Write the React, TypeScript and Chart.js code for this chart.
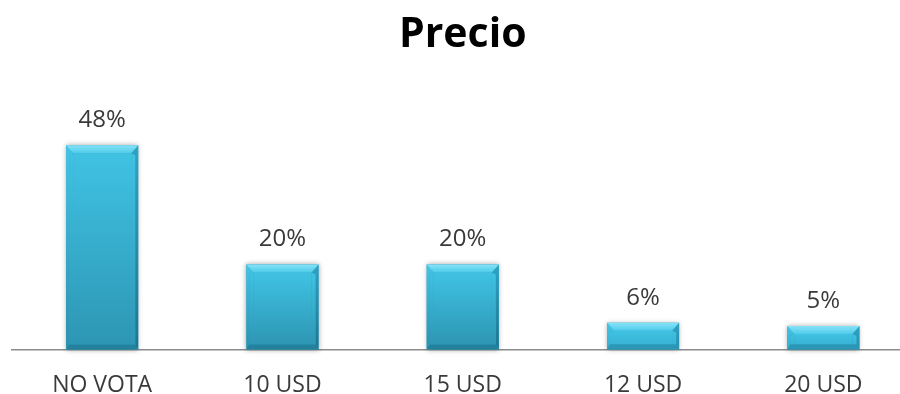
import React, { useEffect, useRef } from "react";
import { Chart, registerables } from "chart.js";

Chart.register(...registerables);

const chartTitle = "Precio";
const categories = ["NO VOTA", "10 USD", "15 USD", "12 USD", "20 USD"];
const values = [48, 20, 20, 6.3, 5.5];
const valueLabels = ["48%", "20%", "20%", "6%", "5%"];

const FONT = "'Open Sans', 'DejaVu Sans', sans-serif";

const bevelPlugin = {
  id: "bevelBars",
  afterDatasetsDraw(chart: any) {
    const ctx: CanvasRenderingContext2D = chart.ctx;
    const meta = chart.getDatasetMeta(0);
    meta.data.forEach((el: any, i: number) => {
      const { x, y, base, width } = el.getProps(["x", "y", "base", "width"], true);
      const l = x - width / 2;
      const r = x + width / 2;
      const t = Math.min(y, base);
      const b = Math.max(y, base);
      const h = b - t;
      const bt = Math.min(8, h / 2.6);
      const bs = Math.min(7, width / 5);
      const bb = Math.min(5, h / 4);
      const il = l + bs, ir = r - bs, it = t + bt, ib = b - bb;

      ctx.save();
      ctx.shadowColor = "rgba(0,0,0,0.35)";
      ctx.shadowBlur = 5;
      ctx.fillStyle = "#2a9fc0";
      ctx.fillRect(l, t, width, h);
      ctx.restore();

      ctx.save();
      const poly = (pts: number[][], fill: any) => {
        ctx.beginPath();
        ctx.moveTo(pts[0][0], pts[0][1]);
        for (let k = 1; k < pts.length; k++) ctx.lineTo(pts[k][0], pts[k][1]);
        ctx.closePath();
        ctx.fillStyle = fill;
        ctx.fill();
      };
      const tall = h > 60;
      const gFace = ctx.createLinearGradient(0, it, 0, ib);
      gFace.addColorStop(0, "#40c2e3");
      gFace.addColorStop(1, tall ? "#2d96b4" : "#38b3d5");
      poly([[il, it], [ir, it], [ir, ib], [il, ib]], gFace);
      // left side: thin diagonal bevel near the top, then a narrow edge
      const gLeft = ctx.createLinearGradient(0, t, 0, b);
      gLeft.addColorStop(0, "#44c4e5");
      gLeft.addColorStop(1, tall ? "#2b90ae" : "#35acce");
      poly([[l, t], [il, it], [l + 3, it + 2], [l + 3, ib], [l, b]], gLeft);
      poly([[l + 3, it + 2], [il, it], [il, ib], [l + 3, ib]], gFace);
      const gRight = ctx.createLinearGradient(0, t, 0, b);
      gRight.addColorStop(0, "#2ea3c4");
      gRight.addColorStop(1, tall ? "#1d7690" : "#2690ae");
      poly([[r, t], [r, b], [r - 3, ib], [r - 3, it + 2], [ir, it]], gRight);
      poly([[r - 3, it + 2], [r - 3, ib], [ir, ib], [ir, it]], gFace);
      poly([[l, b], [l + 3, ib], [r - 3, ib], [r, b]], tall ? "#23819e" : "#2b97b5");
      const gTop = ctx.createLinearGradient(0, t, 0, it);
      gTop.addColorStop(0, "#86e3f8");
      gTop.addColorStop(1, "#4fcbea");
      poly([[l, t], [r, t], [ir, it], [il, it]], gTop);
      ctx.restore();

      ctx.save();
      ctx.font = `24px ${FONT}`;
      ctx.fillStyle = "#3a3a3a";
      ctx.textAlign = "center";
      ctx.textBaseline = "alphabetic";
      ctx.fillText(valueLabels[i], x, t - 18);
      ctx.restore();
    });
  },
};

export default function App() {
  const canvasRef = useRef<HTMLCanvasElement | null>(null);

  useEffect(() => {
    if (!canvasRef.current) return;
    const chart = new Chart(canvasRef.current, {
      type: "bar",
      data: {
        labels: categories,
        datasets: [
          {
            data: values,
            backgroundColor: "rgba(0,0,0,0)",
            borderWidth: 0,
            categoryPercentage: 1,
            barPercentage: 0.4,
          },
        ],
      },
      plugins: [bevelPlugin],
      options: {
        animation: false,
        responsive: false,
        maintainAspectRatio: false,
        devicePixelRatio: 1,
        layout: { padding: { left: 12, right: 10.5, top: 0, bottom: 0 } },
        plugins: {
          legend: { display: false },
          tooltip: { enabled: false },
          title: {
            display: true,
            text: chartTitle,
            color: "#000000",
            font: { family: FONT, size: 41, weight: "bold" },
            padding: { top: 11, bottom: 34 },
          },
        },
        scales: {
          x: {
            grid: { display: false, drawTicks: false },
            border: { display: true, color: "#8c8c8c", width: 1.5 },
            ticks: {
              color: "#3a3a3a",
              font: { family: FONT, size: 23 },
              padding: 22,
              maxRotation: 0,
              autoSkip: false,
            },
            afterFit: (scale: any) => {
              scale.height = 44.5;
            },
          },
          y: {
            display: false,
            min: 0,
            max: 60,
          },
        },
      },
    });
    return () => chart.destroy();
  }, []);

  return (
    <div
      style={{
        position: "fixed",
        left: 0,
        top: 0,
        width: 924,
        height: 394,
        background: "#ffffff",
      }}
    >
      <canvas ref={canvasRef} width={924} height={394} style={{ display: "block" }} />
    </div>
  );
}
